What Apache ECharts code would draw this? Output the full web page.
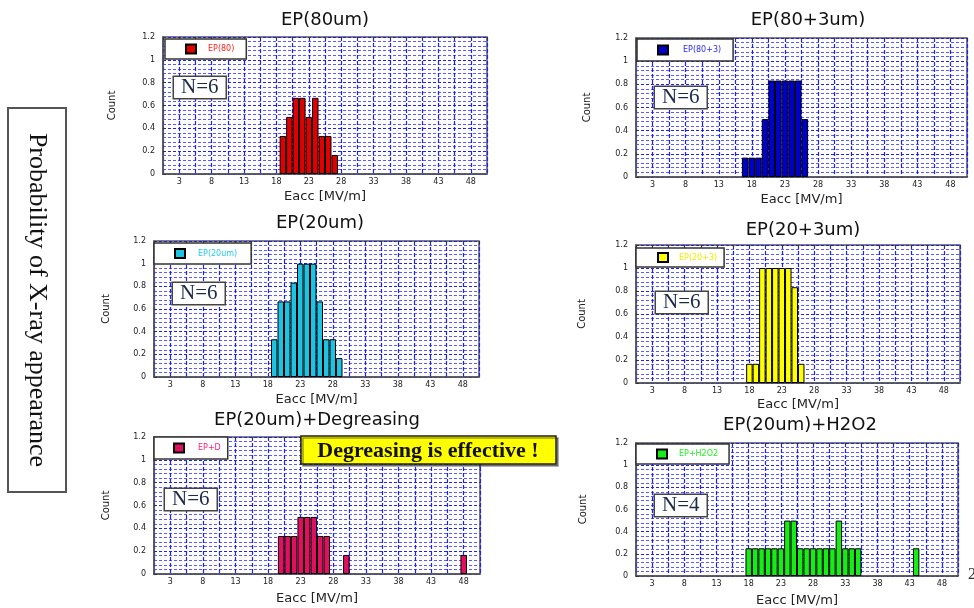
<!DOCTYPE html>
<html><head><meta charset="utf-8">
<script src="https://cdn.jsdelivr.net/npm/echarts@6/dist/echarts.min.js"></script>
<style>html,body{margin:0;padding:0;background:#fff}#c{width:974px;height:608px}</style>
</head><body><div id="c"></div>
<script>
// ---------- data ----------
const bins = ['1','2','3','4','5','6','7','8','9','10','11','12','13','14','15','16','17','18','19','20',
  '21','22','23','24','25','26','27','28','29','30','31','32','33','34','35','36','37','38','39','40',
  '41','42','43','44','45','46','47','48','49','50'];
const xTickLabels = ['3','8','13','18','23','28','33','38','43','48'];
const panelTitles = ['EP(80um)', 'EP(80+3um)', 'EP(20um)', 'EP(20+3um)', 'EP(20um)+Degreasing', 'EP(20um)+H2O2'];
const seriesNames = ['EP(80)', 'EP(80+3)', 'EP(20um)', 'EP(20+3)', 'EP+D', 'EP+H2O2'];
const sampleCounts = ['N=6', 'N=6', 'N=6', 'N=6', 'N=6', 'N=4'];
// [bin (MV/m), count]
const ep80   = [[19,0.333],[20,0.5],[21,0.667],[22,0.667],[23,0.5],[24,0.667],[25,0.333],[26,0.333],[27,0.167]];
const ep80p3 = [[17,0.167],[18,0.167],[19,0.167],[20,0.5],[21,0.833],[22,0.833],[23,0.833],[24,0.833],[25,0.833],[26,0.5]];
const ep20   = [[19,0.333],[20,0.667],[21,0.667],[22,0.833],[23,1],[24,1],[25,1],[26,0.667],[27,0.333],[28,0.333],[29,0.167]];
const ep20p3 = [[18,0.167],[19,0.167],[20,1],[21,1],[22,1],[23,1],[24,1],[25,0.833],[26,0.167]];
const epDeg  = [[20,0.333],[21,0.333],[22,0.333],[23,0.5],[24,0.5],[25,0.5],[26,0.333],[27,0.333],[30,0.167],[48,0.167]];
const epH2O2 = [[18,0.25],[19,0.25],[20,0.25],[21,0.25],[22,0.25],[23,0.25],[24,0.5],[25,0.5],[26,0.25],[27,0.25],
  [28,0.25],[29,0.25],[30,0.25],[31,0.25],[32,0.5],[33,0.25],[34,0.25],[35,0.25],[44,0.25]];
const seriesData = [ep80, ep80p3, ep20, ep20p3, epDeg, epH2O2];
const sideNote = 'Probability of X-ray appearance';
const callout = 'Degreasing is effective !';

// ---------- styling / layout ----------
const sans = 'DejaVu Sans';
const serif = 'Liberation Serif';
const barColors = ['#e00000', '#0000cc', '#1cc4e2', '#ffff00', '#e0105e', '#14ee14'];
const textColors = ['#ff2020', '#2a2aff', '#22ccee', '#eeee00', '#ff2277', '#22ee22'];
const L = [
  {g:[163,37,324,137], t:[325,20], lg:[165,39,20,12,7,4.5], nb:[174,77], yg:46, xg:16},
  {g:[636,38,331,139], t:[808,20], lg:[637,39,20,12,10,5.5], nb:[655,87], yg:44, xg:16},
  {g:[154,241,325,136], t:[320,223], lg:[154,243,20,14,8,5], nb:[173,283], yg:43, xg:16},
  {g:[636,245,324,138], t:[803,230], lg:[636,248,21,7,6,4], nb:[656,292], yg:49, xg:15},
  {g:[154,437,326,137], t:[317,420], lg:[154,437,19,7,9,5.5], nb:[165,489], yg:43, xg:18},
  {g:[636,443,322,136], t:[800,425], lg:[636,444,20,11,7,4.5], nb:[655,495], yg:48, xg:18}
];

function toSeries(pairs) {
  return bins.map(b => { const p = pairs.find(q => String(q[0]) === b); return p ? p[1] : '-'; });
}

const grid = [], xAxis = [], yAxis = [], series = [], legend = [], graphic = [];
L.forEach((p, i) => {
  grid.push({left:p.g[0], top:p.g[1], width:p.g[2], height:p.g[3], show:true,
    backgroundColor:'#fff', borderColor:'#555', borderWidth:1.5});
  xAxis.push({gridIndex:i, type:'category', data:bins, boundaryGap:true,
    name:'Eacc [MV/m]', nameLocation:'middle', nameGap:p.xg,
    nameTextStyle:{fontFamily:sans, fontSize:13, color:'#222', verticalAlign:'top'},
    axisLine:{show:true, lineStyle:{color:'#555', width:1.5}},
    axisTick:{show:false},
    axisLabel:{interval:(idx, val) => xTickLabels.includes(val), fontFamily:sans, fontSize:8, color:'#222', margin:4},
    splitLine:{show:false}});
  xAxis.push({gridIndex:i, type:'value', position:'top', min:0.5, max:50.5, interval:2.5,
    axisLine:{show:false}, axisLabel:{show:false},
    axisTick:{show:true, inside:true, length:3, lineStyle:{color:'#333'}},
    splitLine:{show:true, lineStyle:{color:'#1e1eff', type:[4,2], width:1.2}}});
  yAxis.push({gridIndex:i, type:'value', min:0, max:1.2, interval:0.2,
    name:'Count', nameLocation:'middle', nameGap:p.yg, nameRotate:90,
    nameTextStyle:{fontFamily:sans, fontSize:10, color:'#222'},
    axisLine:{show:true, lineStyle:{color:'#555', width:1.5}},
    axisTick:{show:true, inside:true, length:3, lineStyle:{color:'#333'}},
    axisLabel:{fontFamily:sans, fontSize:8, color:'#222', margin:8},
    splitLine:{show:true, lineStyle:{color:'#2020ee', type:[3,2], width:1}},
    minorTick:{show:false, splitNumber:5},
    minorSplitLine:{show:true, lineStyle:{color:'#5a5aff', type:[3,2], width:1}}});
  series.push({type:'bar', name:seriesNames[i], xAxisIndex:2*i, yAxisIndex:i,
    data:toSeries(seriesData[i]), barCategoryGap:'0%', barGap:'0%',
    itemStyle:{color:barColors[i], borderColor:'#000', borderWidth:1}, z:3});
  legend.push({data:[seriesNames[i]], left:p.lg[0], top:p.lg[1], icon:'rect', selectedMode:false,
    backgroundColor:'#fff', borderColor:'#333', borderWidth:1.5,
    padding:[p.lg[5], p.lg[3], p.lg[5], p.lg[2]], itemWidth:10, itemHeight:9,
    textStyle:{color:textColors[i], fontSize:8, fontFamily:sans, padding:[0,0,0,p.lg[4]]}});
  graphic.push({type:'text', x:p.t[0], y:p.t[1], z:10,
    style:{text:panelTitles[i], fontFamily:sans, fontSize:18, fill:'#111', align:'center', verticalAlign:'middle'}});
  graphic.push({type:'text', x:p.nb[0], y:p.nb[1], z:10,
    style:{text:sampleCounts[i], fontFamily:serif, fontSize:21, fill:'#1c2b4a',
      backgroundColor:'#fff', borderColor:'#444', borderWidth:1.5, padding:[0,7,0,7],
      align:'left', verticalAlign:'top'}});
});

// side note box
graphic.push({type:'rect', shape:{x:8, y:108, width:58, height:384}, z:10,
  style:{fill:'#fff', stroke:'#555', lineWidth:2}});
graphic.push({type:'text', x:37, y:300, rotation:-Math.PI/2, z:11,
  style:{text:sideNote, fontFamily:serif, fontSize:26, fill:'#111', align:'center', verticalAlign:'middle'}});
// callout
graphic.push({type:'rect', shape:{x:301, y:436, width:255, height:28}, z:12,
  style:{fill:'#ffff00', stroke:'#222', lineWidth:1.5, shadowColor:'rgba(0,0,0,0.4)', shadowOffsetX:2, shadowOffsetY:2}});
graphic.push({type:'text', x:428, y:451, z:13,
  style:{text:callout, fontFamily:serif, fontSize:22, fontWeight:'bold', fill:'#111', align:'center', verticalAlign:'middle'}});
// page number (cut off at right edge)
graphic.push({type:'text', x:968, y:575, z:13,
  style:{text:'2', fontFamily:serif, fontSize:16, fill:'#333', align:'left', verticalAlign:'middle'}});

const chart = echarts.init(document.getElementById('c'));
chart.setOption({animation:false, backgroundColor:'#fff', grid, xAxis, yAxis, series, legend, graphic});
</script></body></html>
